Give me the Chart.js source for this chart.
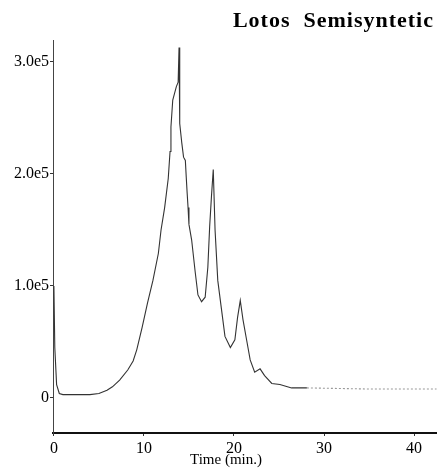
<!DOCTYPE html>
<html>
<head>
<meta charset="utf-8">
<script src="https://cdn.jsdelivr.net/npm/chart.js@4.4.0/dist/chart.umd.min.js"></script>
<style>
  html, body { margin: 0; padding: 0; background: #fff; }
  #wrap { width: 437px; height: 473px; }
</style>
</head>
<body>
<div id="wrap"><canvas id="chart" width="437" height="473"></canvas></div>
<script>
// chromatogram trace
const times = [0, 0.1, 0.3, 0.6, 1.0, 2.0, 3.0, 4.0, 5.0, 5.9, 6.5, 7.3, 8.2, 8.8, 9.2, 9.8,
  10.4, 11.0, 11.6, 11.9, 12.3, 12.7, 12.9, 13.0, 13.2, 13.6, 13.8, 13.9, 13.95, 14.0, 14.2,
  14.4, 14.6, 14.7, 14.8, 14.9, 15.0, 15.3, 15.7, 16.0, 16.4, 16.8, 17.1, 17.3, 17.5, 17.7,
  17.9, 18.2, 18.6, 19.0, 19.6, 20.1, 20.4, 20.7, 21.0, 21.4, 21.8, 22.3, 22.9, 23.4, 24.2,
  25.1, 26.4, 28.1, 35.0, 42.5];
const signal = [100000, 45000, 12000, 4000, 3000, 3000, 3000, 3000, 4000, 7000, 10000, 16000,
  25000, 33000, 43000, 63000, 85000, 105000, 129000, 150000, 170000, 196000, 220000, 242000,
  266000, 278000, 282000, 313000, 285000, 245000, 228000, 215000, 212000, 197000, 183000,
  170000, 155000, 141000, 112000, 92000, 86000, 90000, 117000, 153000, 180000, 204000, 150000,
  105000, 80000, 55000, 45000, 52000, 72000, 87000, 70000, 52000, 34000, 23000, 26000, 20000,
  13000, 12000, 9000, 9000, 8000, 8000];

const xTicks = [0, 10, 20, 30, 40];
const yTicks = [0, 100000, 200000, 300000];
const chartTitle = "Lotos  Semisyntetic";
const xTitle = "Time (min.)";

const serif = '"Liberation Serif", "DejaVu Serif", serif';

// titles drawn in fixed spots like the scanned plot
const textPlugin = {
  id: "texts",
  afterDraw(chart) {
    const ctx = chart.ctx;
    ctx.save();
    ctx.fillStyle = "#000";
    ctx.font = "bold 22px " + serif;
    ctx.letterSpacing = "1px";
    ctx.textAlign = "right";
    ctx.textBaseline = "middle";
    ctx.fillText(chartTitle, 434, 21);
    ctx.letterSpacing = "0px";
    ctx.font = "15px " + serif;
    ctx.textAlign = "center";
    ctx.fillText(xTitle, 226, 460);
    ctx.restore();
  }
};

new Chart(document.getElementById("chart"), {
  type: "line",
  data: {
    datasets: [{
      data: times.map((t, i) => ({ x: t, y: signal[i] })),
      borderColor: "#333",
      borderWidth: 1.1,
      pointRadius: 0,
      tension: 0,
      segment: {
        borderColor: (c) => (c.p0.parsed.x >= 28 ? "#999" : undefined),
        borderDash: (c) => (c.p0.parsed.x >= 28 ? [2, 2] : undefined)
      }
    }]
  },
  options: {
    responsive: false,
    animation: false,
    layout: { padding: { top: 40, right: 0, left: 0, bottom: 0 } },
    plugins: {
      legend: { display: false },
      tooltip: { enabled: false }
    },
    scales: {
      x: {
        type: "linear",
        min: -0.1,
        max: 42.55,
        afterBuildTicks: (s) => { s.ticks = xTicks.map((v) => ({ value: v })); },
        afterFit: (s) => { s.height = 40; },
        grid: { drawOnChartArea: false, tickLength: 3, color: "#333" },
        border: { color: "#111", width: 2 },
        ticks: { color: "#000", padding: 3, font: { family: serif, size: 16 } }
      },
      y: {
        min: -31250,
        max: 319600,
        afterBuildTicks: (s) => { s.ticks = yTicks.map((v) => ({ value: v })); },
        afterFit: (s) => { s.width = 53; },
        grid: { drawOnChartArea: false, tickLength: 3, color: "#333" },
        border: { color: "#444", width: 1, dash: [1, 1] },
        ticks: {
          color: "#000",
          padding: 1,
          font: { family: serif, size: 16 },
          callback: (v) => (v === 0 ? "0" : (v / 100000).toFixed(1) + "e5")
        }
      }
    }
  },
  plugins: [textPlugin]
});
</script>
</body>
</html>
